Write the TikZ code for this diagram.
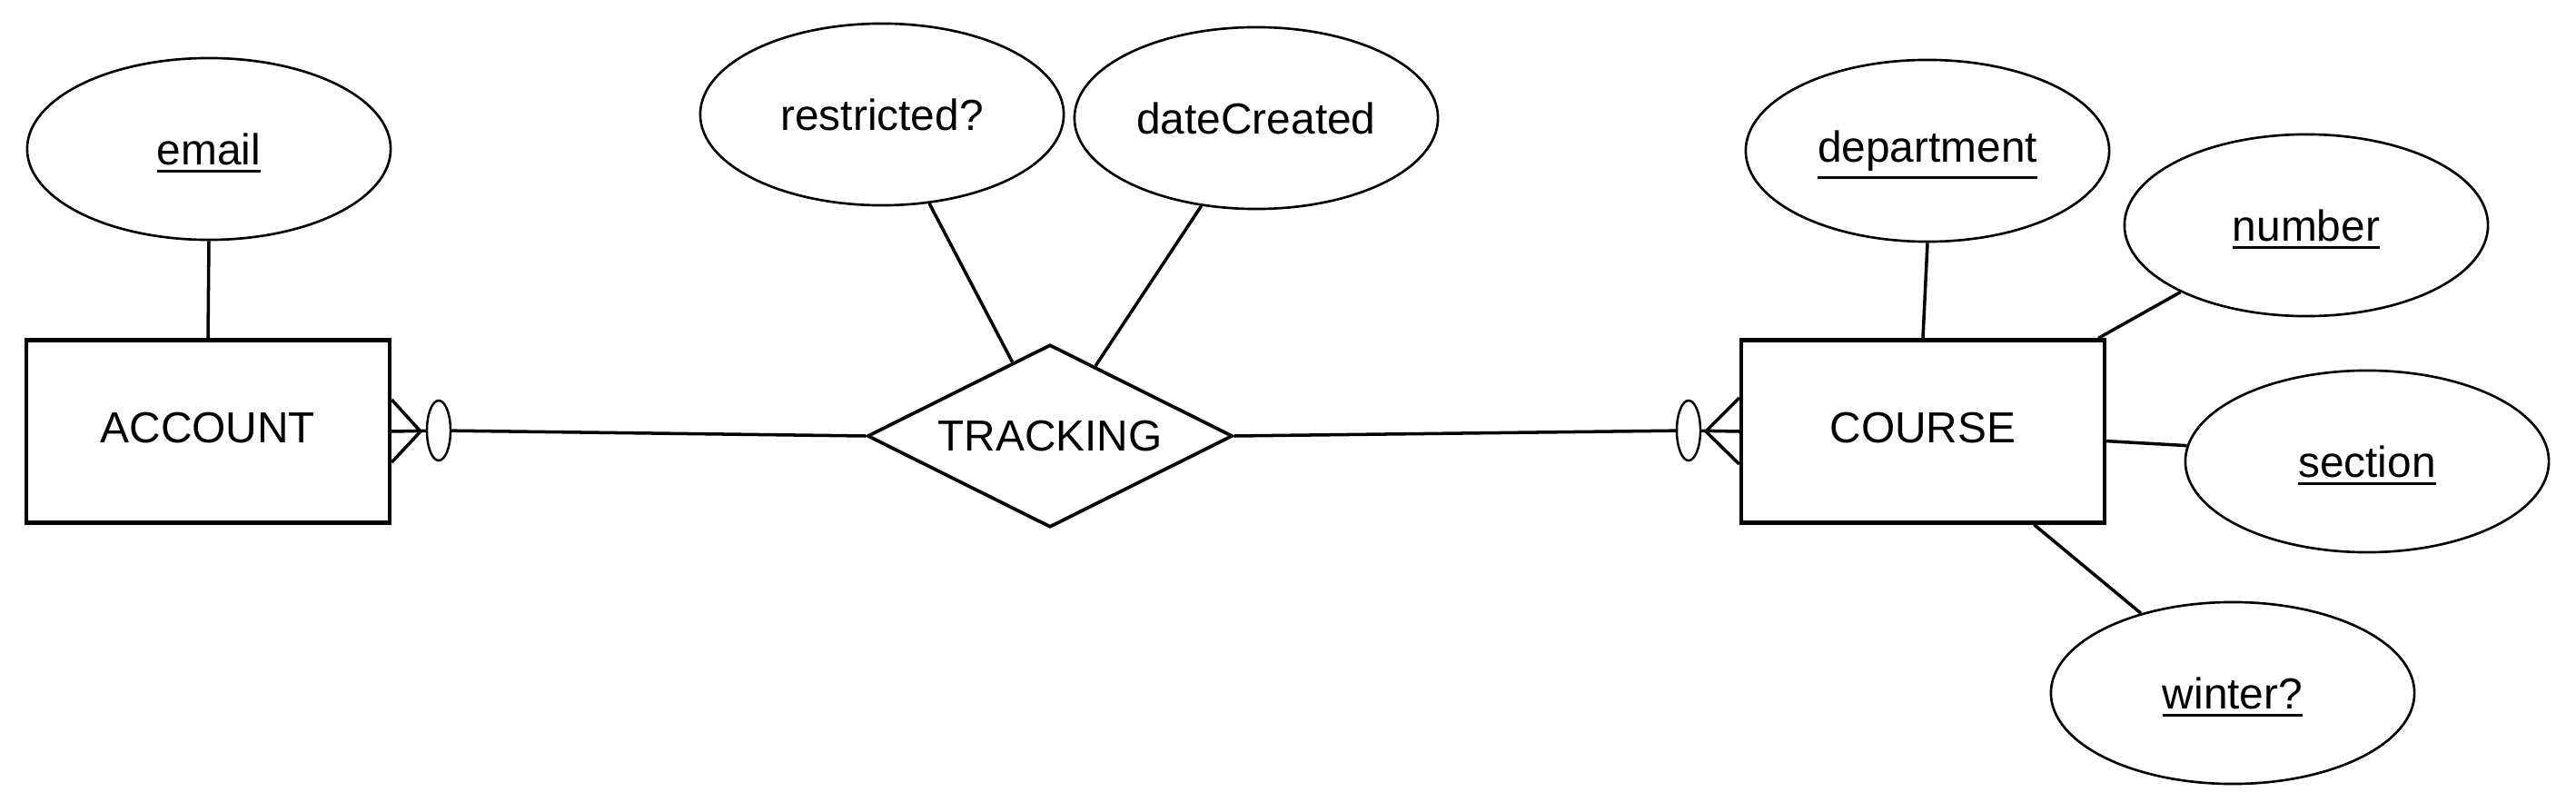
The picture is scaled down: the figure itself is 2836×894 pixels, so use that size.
\documentclass[tikz,border=0pt]{standalone}
\usepackage{fontspec}
\setmainfont{Liberation Sans}
\usetikzlibrary{shapes.geometric,calc}
\newcommand\myul[1]{\setbox0\hbox{#1}\copy0\llap{\smash{\vrule width\wd0 height\dimexpr-\dp0-1.6pt\relax depth\dimexpr\dp0+2.5pt\relax}}}
\begin{document}
\begin{tikzpicture}[x=0.01cm,y=-0.01cm,
  every node/.style={font=\fontsize{13.6}{16}\selectfont},
  attr/.style={ellipse,draw,line width=0.75pt,minimum width=4cm,minimum height=2cm,inner sep=0pt},
  entity/.style={rectangle,draw,line width=1.2pt,minimum width=4cm,minimum height=2.01cm,inner sep=0pt,text depth=2.6pt},
  rel/.style={diamond,draw,line width=1.05pt,minimum width=4.02cm,minimum height=2.01cm,inner sep=0pt,aspect=2},
  conn/.style={line width=1pt},
  opt/.style={ellipse,draw,fill=white,line width=0.7pt,minimum width=0.26cm,minimum height=0.66cm,inner sep=0pt}]
\useasboundingbox (0,0) rectangle (2836,894);
% entities and relationship
\node[entity] (acc) at (229,475) {ACCOUNT};
\node[entity] (crs) at (2117,475) {COURSE};
\node[rel] (trk) at (1156,480) {TRACKING};
% attributes
\node[attr] (email) at (230,164) {\myul{email}};
\node[attr] (restr) at (971,126) {restricted?};
\node[attr] (date) at (1383,130) {dateCreated};
\node[attr] (dept) at (2122,166) {\myul{department}};
\node[attr] (num) at (2539,248) {\myul{number}};
\node[attr] (sec) at (2606,508) {\myul{section}};
\node[attr] (win) at (2458,763) {\myul{winter?}};
% attribute connectors
\draw[conn] (email.south) -- (acc.north);
\draw[conn] (restr.-62.5) -- (trk.117.7);
\draw[conn] (date.-122.7) -- (trk.57.5);
\draw[conn] (dept.south) -- (crs.north);
\draw[conn] (num.-152) -- (crs.28.6);
\draw[conn] (sec.175.4) -- (crs.-3.5);
\draw[conn] (win.139.9) -- (crs.-40);
% left crow's foot with optional circle
\node[opt] (lopt) at (483,474) {};
\coordinate (lf) at (463,475);
\draw[conn] ($(acc.east)+(0,-35)$) -- (lf) -- ($(acc.east)+(0,34)$);
\draw[conn] (acc.east) -- (lopt);
\draw[conn] (lopt) -- (trk.west);
% right crow's foot with optional circle
\node[opt] (ropt) at (1859,474) {};
\coordinate (rf) at (1878,475);
\draw[conn] ($(crs.west)+(0,-37)$) -- (rf) -- ($(crs.west)+(0,36)$);
\draw[conn] (ropt) -- (crs.west);
\draw[conn] (trk.east) -- (ropt);
\end{tikzpicture}
\end{document}
